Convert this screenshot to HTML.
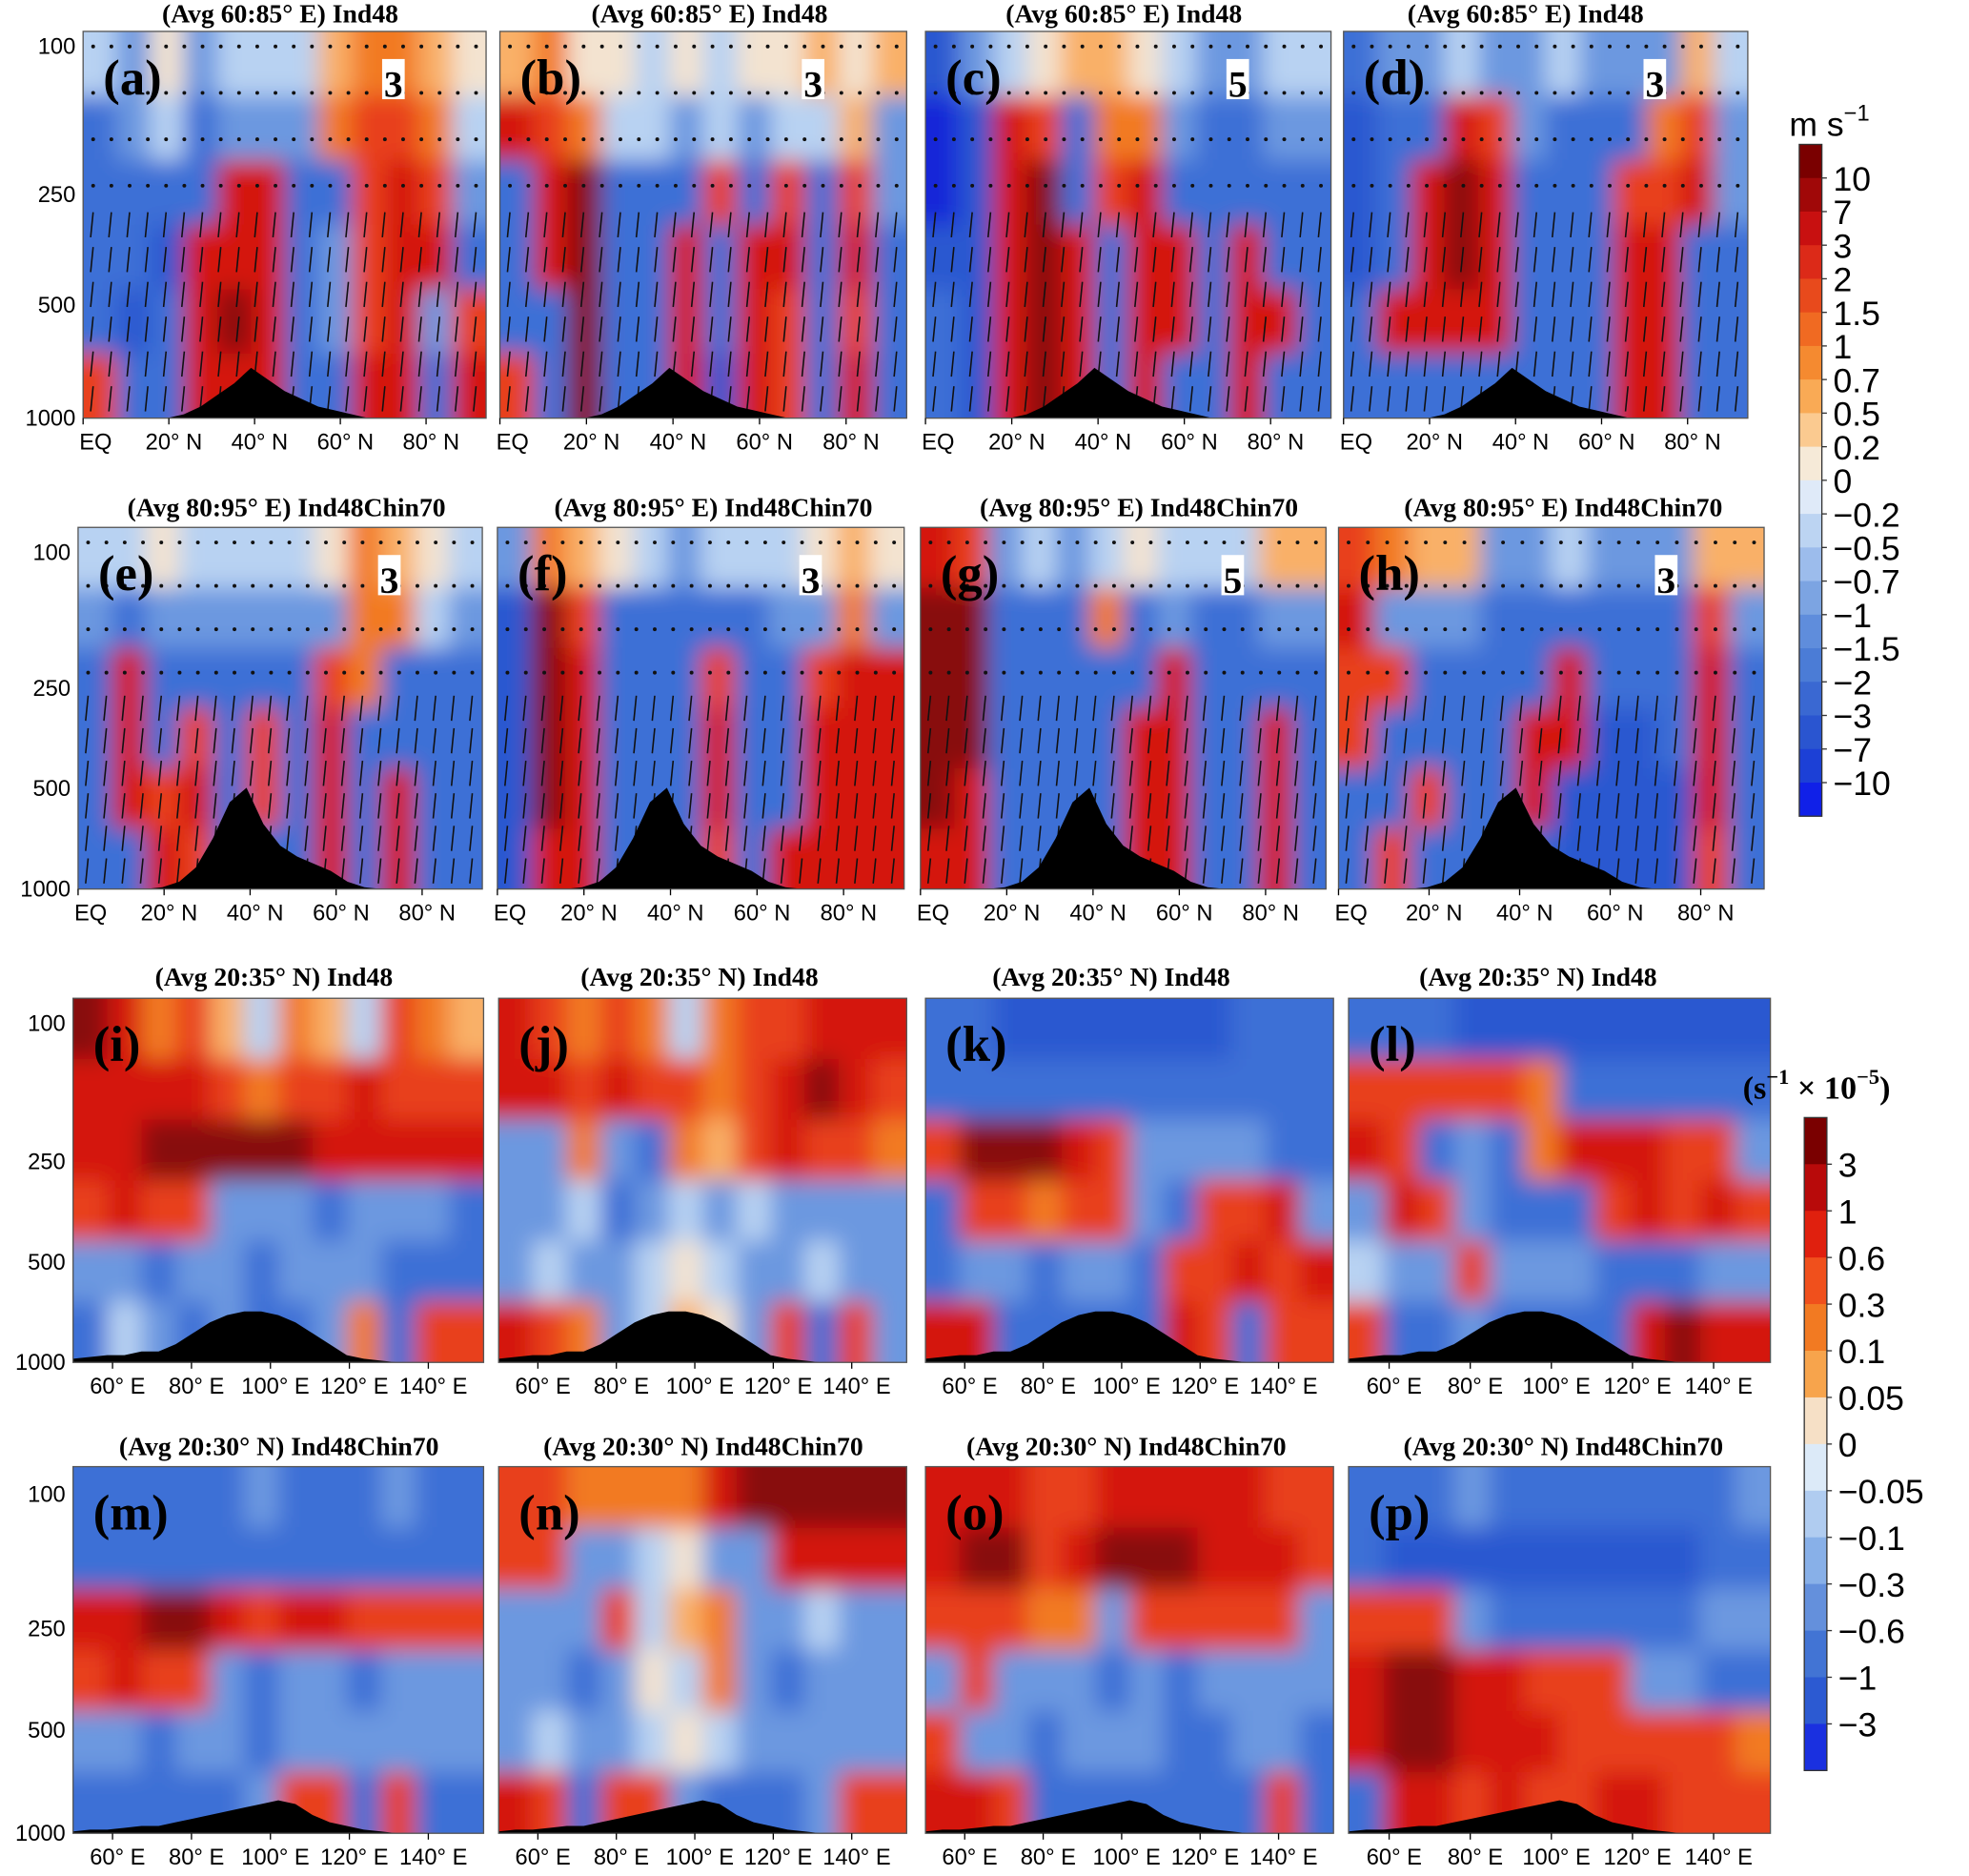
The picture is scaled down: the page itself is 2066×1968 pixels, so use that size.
<!DOCTYPE html>
<html><head><meta charset="utf-8"><style>
html,body{margin:0;padding:0;background:#fff;}
svg{display:block;font-family:"Liberation Serif",serif;}
.t{font-weight:bold;font-size:21px;text-anchor:middle;}
.ax{font-family:"Liberation Sans",sans-serif;font-size:18px;text-anchor:middle;}
.yl{font-family:"Liberation Sans",sans-serif;font-size:18px;text-anchor:end;}
.lt{font-weight:bold;font-size:40px;}
.cb{font-family:"Liberation Sans",sans-serif;font-size:27px;}
</style></head><body>
<svg id="fig" width="2066" height="1968" viewBox="0 0 1568 1494" xmlns="http://www.w3.org/2000/svg">
<defs><filter id="bl" x="-10%" y="-10%" width="120%" height="120%"><feGaussianBlur stdDeviation="9"/></filter></defs>
</svg>
<script>
const NS="http://www.w3.org/2000/svg";
const svg=document.getElementById('fig');
const palette={"-5":"#1428d8","-4":"#2a58d0","-3":"#3c70d6","-2":"#6c98e0","-1":"#b8d2f2","0":"#f3e3d0","1":"#f9b068","2":"#f27a22","3":"#e8401a","4":"#d4180e","5":"#880808"};
const letters=["a","b","c","d","e","f","g","h","i","j","k","l","m","n","o","p"];
const titlesRow=["(Avg 60:85° E) Ind48","(Avg 80:95° E) Ind48Chin70","(Avg 20:35° N) Ind48","(Avg 20:30° N) Ind48Chin70"];
const scaleLabels=["3","3","5","3"];
const latTicks=[0,20,40,60,80];
const latLabels=["EQ","20° N","40° N","60° N","80° N"];
const lonTicks=[60,80,100,120,140];
const lonLabels=["60° E","80° E","100° E","120° E","140° E"];
const pressTicks=["100","250","500","1000"];
const cb1Labels=["10","7","3","2","1.5","1","0.7","0.5","0.2","0","−0.2","−0.5","−0.7","−1","−1.5","−2","−3","−7","−10"];
const cb2Labels=["3","1","0.6","0.3","0.1","0.05","0","−0.05","−0.1","−0.3","−0.6","−1","−3"];
const cb1Colors=["#7a0000","#a00808","#c81010","#dc2a18","#e84a1c","#f06a22","#f58a30","#f9aa55","#fbca90","#f6ead8","#dfeaf8","#bcd4f2","#9cbcec","#7ca4e2","#5f8ddc","#4b7cd6","#3a68d2","#2a55d0","#1c40d6","#1020e8"];
const cb2Colors=["#7a0000","#b80a0a","#e0200e","#f0501c","#f27a22","#f7a44c","#f6e0c6","#dceaf8","#b0ccf0","#88b0e8","#6490dc","#4274d4","#2c5ad2","#1a30e0"];
const terrainTop=[0,0,0,0,0,0,0.01,0.03,0.06,0.09,0.13,0.1,0.07,0.05,0.03,0.02,0.01,0,0,0,0,0,0,0,0];
const terrainTop2=[0,0,0,0,0,0.005,0.02,0.06,0.14,0.24,0.28,0.18,0.12,0.09,0.07,0.05,0.02,0.005,0,0,0,0,0,0,0];
const terrainBot=[0.01,0.015,0.02,0.02,0.03,0.03,0.05,0.08,0.11,0.13,0.14,0.14,0.13,0.11,0.08,0.05,0.02,0.01,0.005,0,0,0,0,0,0];
const terrainBot2=[0.005,0.01,0.01,0.015,0.02,0.02,0.03,0.04,0.05,0.06,0.07,0.08,0.09,0.08,0.05,0.03,0.02,0.01,0.005,0,0,0,0,0,0];
const D={
a:[[-1,-2,0,-2,-1,-1,-1,1,2,2,1,0],[-3,-2,-1,-3,-2,-2,-2,2,3,3,2,-1],[-3,-3,-3,-3,4,4,-3,-3,3,4,3,-2],[-3,-3,-4,4,4,4,-3,-2,3,4,4,-3],[-3,-4,-3,4,5,4,-3,-2,3,4,-2,3],[3,-3,-3,4,4,4,-3,-3,4,4,-3,4]],
b:[[1,2,0,0,-1,0,-1,0,0,1,0,1],[4,3,2,-1,-1,-2,-1,-2,-1,-1,1,-2],[-3,4,5,-3,-3,-3,3,-3,3,-3,3,-2],[-3,4,5,-3,-3,4,-3,4,4,-3,4,-3],[-3,-3,5,-3,-3,4,-3,4,3,-3,3,-3],[3,-3,5,-3,-3,4,-4,4,3,-3,4,-3]],
c:[[-4,-2,-1,0,1,1,0,-1,-2,-2,-1,-1],[-5,-4,4,3,-3,2,2,-2,-3,-3,-2,-2],[-5,-4,4,5,-3,3,4,-3,-3,-3,-3,-3],[-4,-4,4,5,4,-3,4,4,-3,4,-3,-3],[-3,-4,4,5,4,-3,4,4,-3,4,4,-3],[-3,-4,4,5,4,-3,4,-3,-3,4,-3,-3]],
d:[[-3,-2,-2,-1,-2,-2,-1,-2,-2,-2,1,-1],[-4,-3,-3,4,3,-2,-3,-3,-3,2,3,-2],[-4,-3,4,5,4,-3,-3,-3,3,3,4,-2],[-4,-3,4,5,4,-3,-3,-3,4,4,-3,-3],[-3,4,4,4,4,-3,-3,-3,4,4,-3,-3],[-3,-3,-3,-3,-3,-3,-3,-3,4,4,-3,-3]],
e:[[-1,-1,0,-1,-1,-1,-1,0,2,1,0,-1],[-2,-3,-2,-2,-2,-2,-2,-2,2,2,-1,-2],[-3,4,-3,-3,-3,-3,-3,3,2,-3,-3,-3],[-3,4,-3,3,-3,3,-3,4,-3,-3,-3,-3],[-3,4,3,4,-3,3,-3,4,-3,4,-3,-3],[-3,-3,4,3,-3,-3,-3,4,-3,4,-3,-3]],
f:[[-2,2,1,0,-1,-2,-1,-1,-1,0,1,0],[-4,5,3,-3,-3,-3,-3,-3,-2,-2,2,-2],[-4,5,4,-3,-3,-3,3,-3,-3,3,4,4],[-4,5,4,-3,-3,-3,4,-3,-3,4,4,4],[-4,5,4,-3,-3,-3,4,-3,-3,4,4,4],[-4,4,4,-3,-3,-3,3,-3,4,4,4,4]],
g:[[4,3,-2,-1,-2,-1,0,-1,-1,-1,1,1],[5,5,-3,-3,-3,2,-3,-2,-3,-3,-2,-2],[5,5,-3,-3,-3,-3,-3,4,-3,-3,-3,-3],[5,5,-3,-3,-3,-3,4,4,-3,-3,4,-3],[5,4,-3,-3,-3,-3,4,4,-3,-3,4,-3],[4,4,-3,-3,-3,-3,4,4,-3,-3,4,-3]],
h:[[3,2,1,1,-2,-2,-1,-2,-2,-2,1,1],[4,-2,-2,-2,-3,-3,-3,-3,-3,-3,3,-2],[3,3,-3,-3,-3,-3,4,-3,-3,-3,4,-3],[3,-3,-3,-3,-3,4,4,-4,-4,-3,4,-3],[-3,-3,3,-3,-3,4,-4,-4,-4,-4,4,-3],[-3,3,-3,-3,-3,-3,-4,-4,-4,-4,3,-3]],
i:[[5,4,2,3,1,-1,2,1,-1,3,2,1],[4,4,4,4,3,2,3,3,4,3,3,3],[4,4,5,5,5,5,5,4,4,4,4,4],[3,4,3,3,-2,-2,-2,-3,-2,-2,-2,-3],[-2,-2,-3,-2,-2,-3,-2,-2,-2,-3,-3,-3],[-3,-1,-2,-3,-2,-3,-3,-2,2,-3,3,3]],
j:[[4,3,2,3,2,-1,2,3,3,4,4,4],[4,4,3,4,3,3,2,3,4,5,4,3],[-2,-2,2,-2,-3,2,1,3,4,3,3,2],[-2,-2,-1,-3,-2,-1,-2,-1,-2,-2,-2,-2],[-2,-1,-2,-2,-1,0,-1,-2,-2,-1,-2,-2],[4,3,2,-2,-1,1,0,-2,3,-3,3,-2]],
k:[[-3,-3,-4,-4,-4,-4,-4,-4,-4,-3,-3,-3],[-3,-3,-3,-3,-3,-3,-3,-3,-3,-3,-3,-3],[3,5,5,5,4,3,-2,-2,-2,-2,-3,-3],[-3,3,3,2,3,3,-2,-3,3,3,4,-2],[-3,-2,-2,-3,-2,-2,-3,3,3,4,3,4],[4,4,-3,-3,-3,-3,-3,4,3,-3,3,3]],
l:[[-3,-3,-3,-4,-4,-4,-4,-4,-4,-4,-4,-4],[3,3,3,3,3,2,-3,-3,-3,-3,-3,-3],[4,3,-3,-2,-3,2,4,4,4,3,3,-2],[-2,4,3,-2,-3,-3,-3,3,4,3,4,3],[-1,-2,-2,3,-2,-2,-2,-3,-3,-3,-2,-2],[3,-3,-3,-2,-3,-3,-3,-3,4,5,4,4]],
m:[[-3,-3,-3,-3,-3,-2,-3,-3,-3,-2,-3,-3],[-3,-3,-3,-3,-3,-3,-3,-3,-3,-3,-3,-3],[4,4,5,5,4,3,4,4,3,3,3,3],[3,4,3,3,-2,-3,-2,-2,-3,-2,-2,-2],[-2,-2,-3,-2,-2,-3,-2,-2,-2,-2,-2,-2],[-3,-3,-3,-3,-3,-2,3,3,-3,3,-3,-3]],
n:[[3,3,2,2,2,2,4,5,5,5,5,5],[3,3,-2,-2,-1,0,-2,-2,4,4,4,4],[-2,-2,-2,3,-1,1,2,-2,-2,-1,-2,-2],[-2,-2,-3,-2,0,-1,2,-2,-3,-2,-2,-2],[-2,-1,-2,-2,-1,0,-1,-2,-2,-2,-2,-2],[4,3,-3,3,3,-2,-3,-3,-3,-2,3,3]],
o:[[4,4,4,3,3,4,4,4,4,4,3,3],[4,5,5,3,4,5,5,5,4,4,4,3],[3,3,3,2,2,-2,3,3,3,3,3,-2],[-2,3,-2,-2,-2,-3,-2,-3,-2,-2,-2,-2],[3,-2,-2,-3,-2,-2,-2,-3,-3,-2,-2,-3],[4,4,3,-3,-3,-3,-3,-3,-3,-3,3,-3]],
p:[[-3,-3,-3,-2,-3,-3,-3,-3,-3,-3,-3,-2],[-3,-4,-4,-4,-4,-4,-4,-4,-4,-4,-3,-3],[3,3,3,-2,-3,-3,-3,-3,-3,-3,-2,-2],[4,5,5,4,4,3,3,3,-2,-2,-3,-3],[4,5,5,4,4,4,3,3,3,3,3,2],[-3,4,4,3,4,3,3,4,4,3,3,3]]
};
const rows=[
 {y0:25,y1:333,xs:[[66,387],[398,722],[737,1060],[1070,1392]],ty:18,tx:[223,565,895,1215],yt:[37,155,243,333],terr:terrainTop,lat:true},
 {y0:420,y1:708,xs:[[62,384],[396,720],[733,1056],[1066,1405]],ty:411,tx:[228,568,907,1245],yt:[440,548,628,708],terr:terrainTop2,lat:true},
 {y0:795,y1:1085,xs:[[58,385],[397,722],[737,1062],[1074,1410]],ty:785,tx:[218,557,885,1225],yt:[815,925,1005,1085],terr:terrainBot,lat:false},
 {y0:1168,y1:1460,xs:[[58,385],[397,722],[737,1062],[1074,1410]],ty:1159,tx:[222,560,897,1245],yt:[1190,1297,1378,1460],terr:terrainBot2,lat:false}
];
function mk(tag,attrs,parent){const e=document.createElementNS(NS,tag);for(const k in attrs)e.setAttribute(k,attrs[k]);(parent||svg).appendChild(e);return e;}
let idx=0;
rows.forEach((R,ri)=>{
 pressTicks.forEach((p,k)=>{const t=mk('text',{x:R.xs[0][0]-6,y:R.yt[k]+6,class:'yl'});t.textContent=p;
  
  });
 R.xs.forEach((X,ci)=>{
  const L=letters[idx++];const data=D[L];
  const x0=X[0],x1=X[1],y0=R.y0,y1=R.y1,w=x1-x0,h=y1-y0;
  const g=mk('g',{});
  
  
  const cid='c'+L;const cp=mk('clipPath',{id:cid},g);mk('rect',{x:x0,y:y0,width:w,height:h},cp);
  const inner=mk('g',{'clip-path':'url(#'+cid+')'},g);
  const hm=mk('g',{filter:'url(#bl)'},inner);
  const nr=data.length,nc=data[0].length,cw=w/nc,chh=h/nr;
  for(let r=-1;r<=nr;r++)for(let c=-1;c<=nc;c++){
   const rr=Math.min(nr-1,Math.max(0,r)),cc=Math.min(nc-1,Math.max(0,c));
   const cell=mk('rect',{x:x0+c*cw,y:y0+r*chh,width:cw+0.5,height:chh+0.5,fill:palette[data[rr][cc]]},hm);
   
   
  }
  if(R.lat){for(let r=0;r<4;r++)for(let c=0;c<22;c++){mk('circle',{cx:x0+8+c*(w-16)/21,cy:y0+12+r*(h*0.12),r:1.5,fill:'#111'},inner);}
   for(let r=0;r<6;r++)for(let c=0;c<22;c++){const cx=x0+8+c*(w-16)/21,cy=y0+h*0.5+r*h*0.09;mk('line',{x1:cx,y1:cy-10,x2:cx-2,y2:cy+10,stroke:'#111','stroke-width':1.2},inner);}}
  const T=R.terr;let pts=x0+','+y1;T.forEach((v,k)=>{pts+=' '+(x0+k*w/(T.length-1))+','+(y1-v*h);});pts+=' '+x1+','+y1;
  const tp=mk('polygon',{points:pts,fill:'#000'},inner);
  
  
  mk('rect',{x:x0,y:y0,width:w,height:h,fill:'none',stroke:'#555','stroke-width':1},g);
  const tt=mk('text',{x:R.tx[ci],y:R.ty,class:'t'},g);tt.textContent=titlesRow[ri];
  
  
  const lt=mk('text',{x:x0+16,y:y0+50,class:'lt'},g);lt.textContent='('+L+')';
  
  
  if(R.lat){const sx=x0+w*0.77;mk('rect',{x:sx-9,y:y0+22,width:18,height:32,fill:'#fff'},g);
   const s=mk('text',{x:sx,y:y0+52,class:'t'},g);s.setAttribute('style','font-size:30px');s.textContent=scaleLabels[ci];
   
   }
  const ticks=R.lat?latTicks:lonTicks,labs=R.lat?latLabels:lonLabels;
  ticks.forEach((tv,k)=>{const f=R.lat?tv/94:(tv-50)/104;const xx=x0+f*w;
   mk('line',{x1:xx,y1:y1,x2:xx,y2:y1+5,stroke:'#000'},g);
   const t=mk('text',{x:R.lat&&k===0?xx+10:xx+4,y:y1+25,class:'ax'},g);t.textContent=labs[k];
   
   });
 });
});
function colorbar(x,y0,y1,cols,labs,name){
 const g=mk('g',{});
 const n=cols.length,bh=(y1-y0)/n;
 cols.forEach((c,k)=>{mk('rect',{x:x,y:y0+k*bh,width:18,height:bh+0.3,fill:c},g);});
 mk('rect',{x:x,y:y0,width:18,height:y1-y0,fill:'none',stroke:'#333'},g);
 labs.forEach((l,k)=>{const yy=y0+(k+1)*bh;mk('line',{x1:x+18,y1:yy,x2:x+22,y2:yy,stroke:'#333'},g);
  const t=mk('text',{x:x+27,y:yy+10,class:'cb'},g);t.textContent=l;
  
  });
}
colorbar(1433,115,650,cb1Colors,cb1Labels,'colorbar-wind');
colorbar(1437,890,1410,cb2Colors,cb2Labels,'colorbar-divergence');
const u1=mk('text',{x:1425,y:108,class:'cb'});u1.innerHTML='m s<tspan dy="-12" style="font-size:18px">−1</tspan>';


const u2=mk('text',{x:1388,y:875,style:'font-size:26px;font-weight:bold'});u2.innerHTML='(s<tspan dy="-12" style="font-size:17px">−1</tspan><tspan dy="12"> × 10</tspan><tspan dy="-12" style="font-size:17px">−5</tspan><tspan dy="12">)</tspan>';


</script>
</body></html>
